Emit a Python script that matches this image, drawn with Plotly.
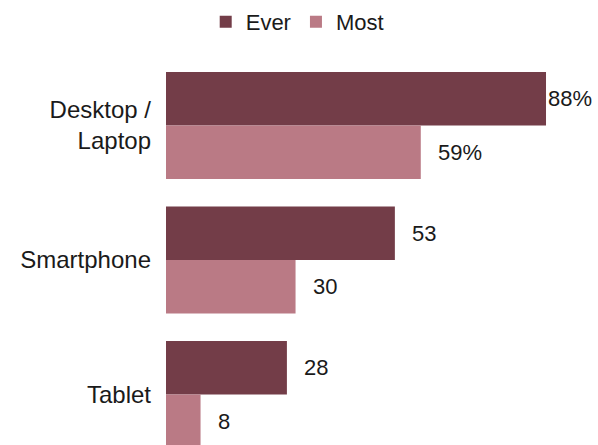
import plotly.graph_objects as go

categories = ["Desktop /<br>Laptop", "Smartphone", "Tablet"]
ever = [88, 53, 28]
most = [59, 30, 8]
ever_labels = ["88%", "53", "28"]
most_labels = ["59%", "30", "8"]

DARK = "#733D48"
LIGHT = "#BA7A85"
FONT = "Liberation Sans, Arial, sans-serif"
TXT = "#1a1a1a"
BARGAP = 0.2045

fig = go.Figure()
fig.add_trace(go.Bar(name="Ever", y=categories, x=ever, orientation="h",
                     marker=dict(color=DARK, line=dict(width=0)), hoverinfo="skip"))
fig.add_trace(go.Bar(name="Most", y=categories, x=most, orientation="h",
                     marker=dict(color=LIGHT, line=dict(width=0)), hoverinfo="skip"))

half = (1 - BARGAP) / 4
annotations = []
vmax = max(ever + most)
for i in range(len(categories)):
    for vals, labs, off in ((ever, ever_labels, -half), (most, most_labels, half)):
        v = vals[i]
        annotations.append(dict(
            x=v, y=i + off, xref="x", yref="y", text=labs[i], showarrow=False,
            xanchor="left", yanchor="middle", xshift=0 if v == vmax else 15,
            font=dict(family=FONT, size=22, color=TXT)))

fig.update_layout(
    width=598, height=445,
    margin=dict(l=166, r=0, t=55, b=0, autoexpand=False),
    paper_bgcolor="white", plot_bgcolor="white",
    barmode="group", bargap=BARGAP, bargroupgap=0,
    font=dict(family=FONT, size=22, color=TXT),
    showlegend=True,
    legend=dict(orientation="h", x=0.497, xref="container", xanchor="center",
                y=1 - 22 / 445, yref="container", yanchor="middle",
                font=dict(family=FONT, size=22, color=TXT),
                itemwidth=30, traceorder="normal"),
    xaxis=dict(range=[0, 100.04], visible=False, fixedrange=True),
    yaxis=dict(range=[2.375, -0.524], showgrid=False, zeroline=False, showline=False,
               ticks="", ticklabelstandoff=14, fixedrange=True,
               tickfont=dict(family=FONT, size=24, color=TXT)),
    annotations=annotations,
)

fig.write_html("out.html", config={"displayModeBar": False},
               post_script="document.body.style.margin='0';document.body.style.overflow='hidden';")
